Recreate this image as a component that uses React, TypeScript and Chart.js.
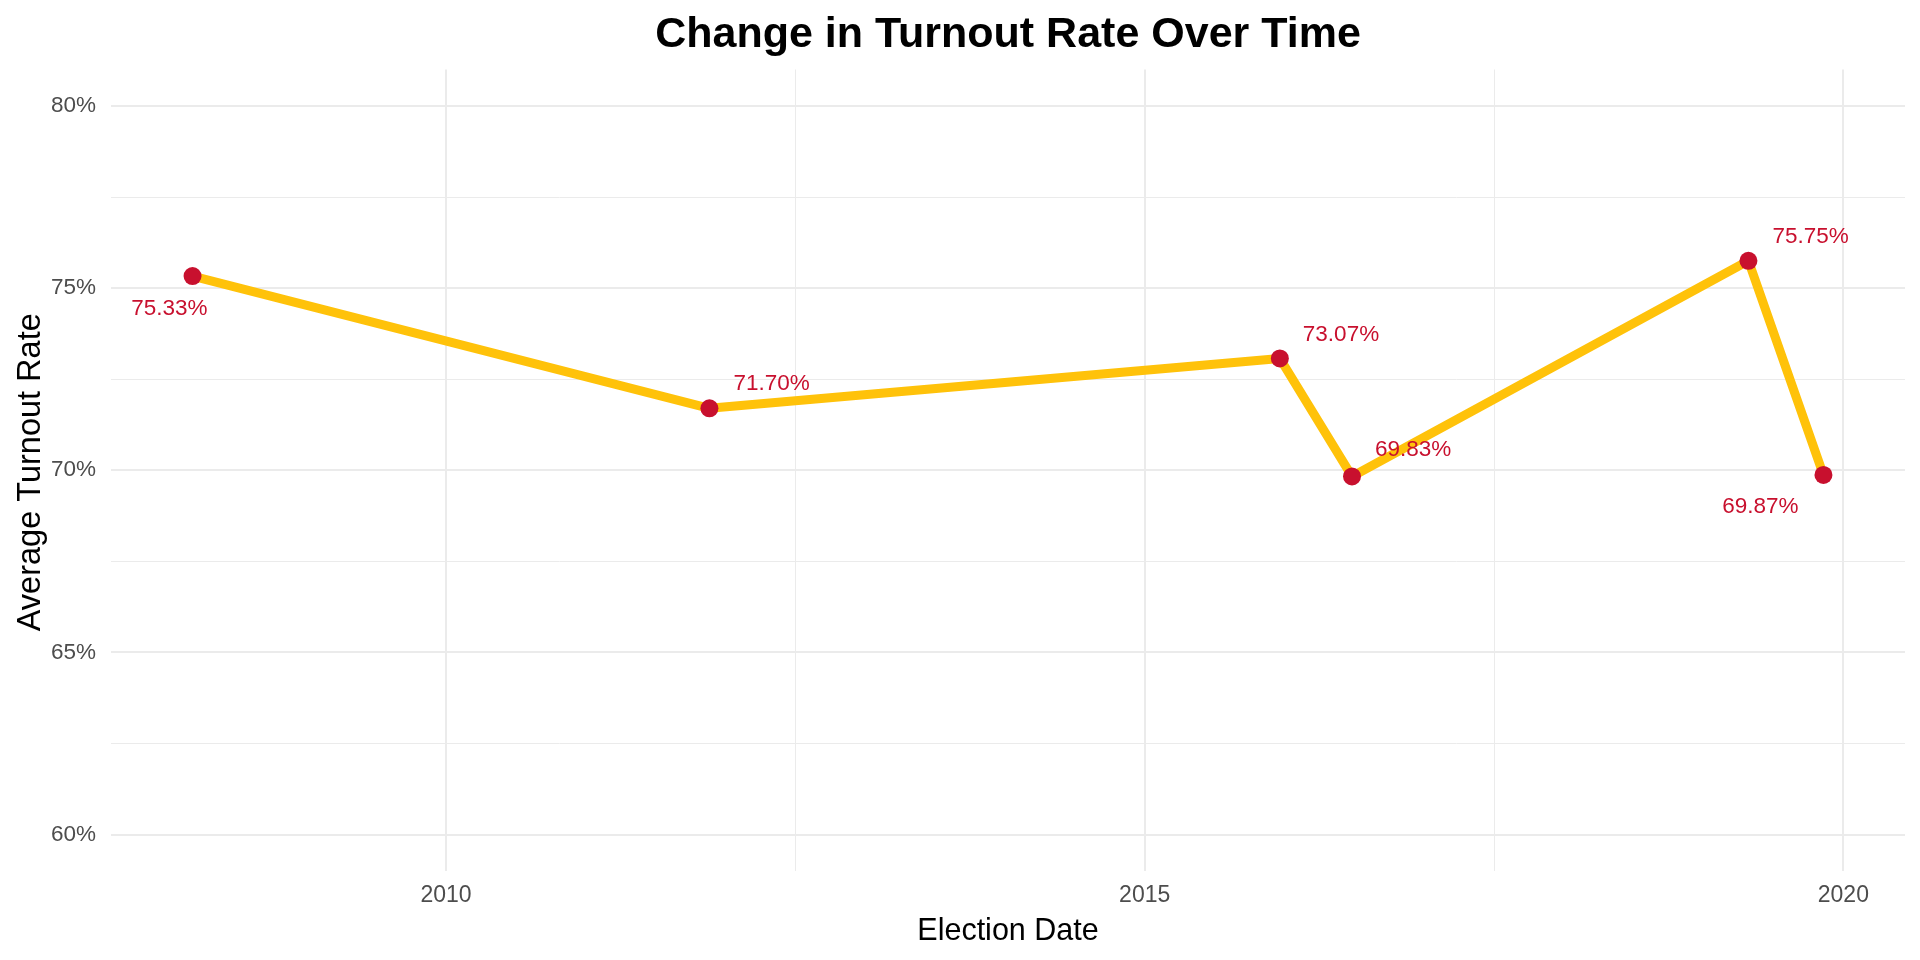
import React, { useEffect, useRef } from "react";
import { Chart, registerables } from "chart.js";

Chart.register(...registerables);

// ---- data ----
const electionDates = ["2008-03-09", "2011-11-20", "2015-12-20", "2016-06-26", "2019-04-28", "2019-11-10"];
const turnoutRates = [75.33, 71.7, 73.07, 69.83, 75.75, 69.87];
const rateLabels = ["75.33%", "71.70%", "73.07%", "69.83%", "75.75%", "69.87%"];
const xBreaks = [2010, 2012.5, 2015, 2017.5, 2020];
const xLabelledBreaks = [2010, 2015, 2020];
const yBreaks = [60, 62.5, 65, 67.5, 70, 72.5, 75, 77.5, 80];
const yLabelledBreaks = [60, 65, 70, 75, 80];
const yLimits = [60, 80];

// ---- style ----
const LINE_COLOR = "#FFC20A";
const POINT_COLOR = "#C8102E";
const GRID_COLOR = "#EBEBEB";
const TICK_COLOR = "#4D4D4D";
const FONT = '"Liberation Sans", Arial, Helvetica, sans-serif';
const labelPlacement = [
  { align: "right", dx: 15, dy: 39 },
  { align: "left", dx: 24, dy: -18 },
  { align: "left", dx: 23, dy: -17 },
  { align: "left", dx: 23, dy: -20 },
  { align: "left", dx: 24, dy: -18 },
  { align: "right", dx: -25, dy: 38 },
];

function toDecimalYear(iso: string): number {
  const [y, m, d] = iso.split("-").map(Number);
  const start = Date.UTC(y, 0, 1);
  const end = Date.UTC(y + 1, 0, 1);
  return y + (Date.UTC(y, m - 1, d) - start) / (end - start);
}

const xValues = electionDates.map(toDecimalYear);
const xMinData = Math.min(...xValues);
const xMaxData = Math.max(...xValues);
const xPad = (xMaxData - xMinData) * 0.05;
const yPad = (yLimits[1] - yLimits[0]) * 0.05;

const annotatePlugin = {
  id: "annotate",
  afterDatasetsDraw(chart: any) {
    const ctx = chart.ctx;
    const meta = chart.getDatasetMeta(0);
    ctx.save();
    ctx.font = `22.5px ${FONT}`;
    ctx.fillStyle = POINT_COLOR;
    ctx.textBaseline = "alphabetic";
    meta.data.forEach((pt: any, i: number) => {
      const p = labelPlacement[i];
      ctx.textAlign = p.align;
      ctx.fillText(rateLabels[i], pt.x + p.dx, pt.y + p.dy);
    });
    ctx.restore();
  },
  afterDraw(chart: any) {
    const ctx = chart.ctx;
    const area = chart.chartArea;
    const cx = (area.left + area.right) / 2;
    const cy = (area.top + area.bottom) / 2;
    ctx.save();
    ctx.fillStyle = "#000000";
    ctx.textAlign = "center";
    ctx.textBaseline = "alphabetic";
    ctx.font = `bold 43px ${FONT}`;
    ctx.fillText("Change in Turnout Rate Over Time", cx, 47);
    ctx.font = `30.5px ${FONT}`;
    ctx.fillText("Election Date", cx, 940);
    ctx.translate(40, cy + 2);
    ctx.rotate(-Math.PI / 2);
    ctx.font = `32.5px ${FONT}`;
    ctx.fillText("Average Turnout Rate", 0, 0);
    ctx.restore();
  },
};

export default function App() {
  const canvasRef = useRef<HTMLCanvasElement | null>(null);

  useEffect(() => {
    if (!canvasRef.current) return;
    const chart = new Chart(canvasRef.current, {
      type: "line",
      data: {
        datasets: [
          {
            label: "Turnout",
            data: xValues.map((x, i) => ({ x, y: turnoutRates[i] })),
            borderColor: LINE_COLOR,
            borderWidth: 9,
            borderCapStyle: "round",
            borderJoinStyle: "round",
            pointBackgroundColor: POINT_COLOR,
            pointBorderColor: POINT_COLOR,
            pointBorderWidth: 0,
            pointRadius: 9,
            tension: 0,
            fill: false,
          },
        ],
      },
      options: {
        animation: false,
        responsive: false,
        devicePixelRatio: 1,
        layout: { padding: { top: 69.5, right: 15, left: 0, bottom: 0 } },
        plugins: {
          legend: { display: false },
          title: { display: false },
          tooltip: { enabled: false },
        },
        scales: {
          x: {
            type: "linear",
            min: xMinData - xPad,
            max: xMaxData + xPad,
            border: { display: false },
            grid: {
              color: GRID_COLOR,
              drawTicks: false,
              lineWidth: (c: any) => (c.tick && xLabelledBreaks.includes(c.tick.value) ? 2 : 1),
            },
            afterBuildTicks: (scale: any) => {
              scale.ticks = xBreaks.map((v) => ({ value: v }));
            },
            afterFit: (scale: any) => {
              scale.height = 89;
            },
            ticks: {
              autoSkip: false,
              maxRotation: 0,
              padding: 10.5,
              color: TICK_COLOR,
              font: { family: FONT, size: 23 },
              callback: (v: any) => (xLabelledBreaks.includes(Number(v)) ? String(v) : ""),
            },
          },
          y: {
            type: "linear",
            min: yLimits[0] - yPad,
            max: yLimits[1] + yPad,
            border: { display: false },
            grid: {
              color: GRID_COLOR,
              drawTicks: false,
              lineWidth: (c: any) => (c.tick && yLabelledBreaks.includes(c.tick.value) ? 2 : 1),
            },
            afterBuildTicks: (scale: any) => {
              scale.ticks = yBreaks.map((v) => ({ value: v }));
            },
            afterFit: (scale: any) => {
              scale.width = 111;
            },
            ticks: {
              autoSkip: false,
              padding: 15,
              color: TICK_COLOR,
              font: { family: FONT, size: 22.5 },
              callback: (v: any) => (yLabelledBreaks.includes(Number(v)) ? `${v}%` : ""),
            },
          },
        },
      },
      plugins: [annotatePlugin],
    } as any);
    return () => chart.destroy();
  }, []);

  return (
    <div style={{ position: "absolute", left: 0, top: 0, width: 1920, height: 960, background: "#FFFFFF" }}>
      <canvas ref={canvasRef} width={1920} height={960} style={{ display: "block", width: 1920, height: 960 }} />
    </div>
  );
}
